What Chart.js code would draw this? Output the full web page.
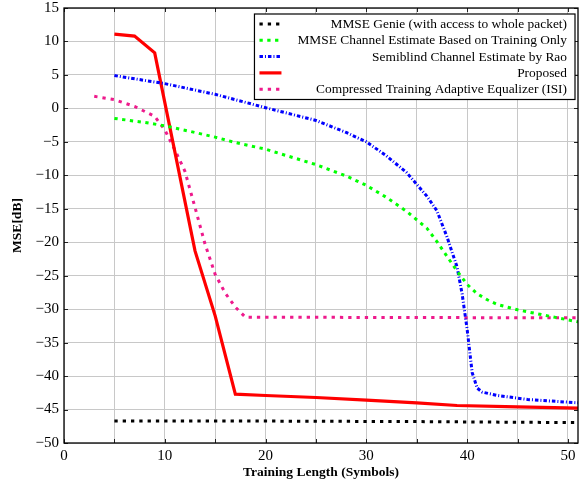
<!DOCTYPE html>
<html>
<head>
<meta charset="utf-8">
<script src="https://cdn.jsdelivr.net/npm/chart.js@4"></script>
<style>
  html, body { margin: 0; padding: 0; background: #fff; }
  #wrap { width: 585px; height: 484px; }
</style>
</head>
<body>
<div id="wrap"><canvas id="chart" width="585" height="484"></canvas></div>
<script>
"use strict";

// Values.
const genieX = [5, 15, 25, 35, 45, 51];
const genieY = [-46.7, -46.7, -46.75, -46.8, -46.9, -46.95];

const trainX = [5, 8, 10, 13, 15, 17, 20, 25, 28, 30, 32, 34, 36, 37, 38, 39, 40, 41, 42, 43, 45, 48, 51];
const trainY = [-1.5, -2.1, -2.6, -3.6, -4.3, -5.1, -6.1, -8.4, -10.1, -11.5, -13.3, -15.4, -17.9, -19.9, -22.1, -24.3, -26.3, -27.7, -28.6, -29.3, -30.1, -31.0, -31.9];

const raoX = [5, 10, 15, 17, 20, 25, 28, 30, 32, 34, 36, 37, 38, 39, 39.5, 40, 40.5, 41, 41.5, 43, 46, 51];
const raoY = [4.9, 3.7, 2.1, 1.3, 0.1, -1.8, -3.6, -5.0, -7.1, -9.6, -13.1, -15.3, -19.2, -23.7, -27.7, -33.0, -39.5, -41.8, -42.4, -42.9, -43.5, -44.0];

const proposedX = [5, 7, 9, 13, 15, 17, 20, 25, 30, 35, 39, 45, 51];
const proposedY = [11.1, 10.8, 8.3, -21.3, -31.0, -42.7, -42.9, -43.2, -43.6, -44.0, -44.4, -44.6, -44.8];

const isiX = [3, 5, 7, 9, 10, 11, 12, 13, 14, 15, 16, 17, 18, 51];
const isiY = [1.8, 1.3, 0.3, -1.2, -3.2, -6.2, -9.4, -14.8, -20.3, -24.8, -27.6, -29.7, -31.2, -31.3];

const seriesLabels = [
  "MMSE Genie (with access to whole packet)",
  "MMSE Channel Estimate Based on Training Only",
  "Semiblind Channel Estimate by Rao",
  "Proposed",
  "Compressed Training Adaptive Equalizer (ISI)",
];

const X_MIN = 0, X_MAX = 51, X_STEP = 5, X_LABEL_STEP = 10;
const Y_MIN = -50, Y_MAX = 15, Y_STEP = 5;

const SERIF = "'Liberation Serif', 'DejaVu Serif', serif";

const zip = (xs, ys) => xs.map((x, i) => ({ x, y: ys[i] }));
const minus = (v) => String(v).replace("-", "\u2212");

function line(label, xs, ys, color, dash, width) {
  return {
    label,
    data: zip(xs, ys),
    borderColor: color,
    backgroundColor: color,
    borderWidth: width,
    borderDash: dash,
    borderCapStyle: "butt",
    borderJoinStyle: "miter",
    pointRadius: 0,
    tension: 0,
    fill: false,
  };
}

/** Frame, inward tick marks on all four sides (pgfplots style). */
const frame = {
  id: "frame",
  afterDatasetsDraw(chart) {
    const { ctx, chartArea: a, scales: { x, y } } = chart;
    ctx.save();
    ctx.strokeStyle = "#222";
    ctx.lineWidth = 1;
    ctx.beginPath();
    for (let v = X_MIN; v <= X_MAX; v += X_STEP) {
      const px = Math.round(x.getPixelForValue(v)) + 0.5;
      ctx.moveTo(px, a.bottom); ctx.lineTo(px, a.bottom - 4);
      ctx.moveTo(px, a.top); ctx.lineTo(px, a.top + 4);
    }
    for (let v = Y_MIN; v <= Y_MAX; v += Y_STEP) {
      const py = Math.round(y.getPixelForValue(v)) + 0.5;
      ctx.moveTo(a.left, py); ctx.lineTo(a.left + 4, py);
      ctx.moveTo(a.right, py); ctx.lineTo(a.right - 4, py);
    }
    ctx.stroke();
    ctx.lineWidth = 1.3;
    ctx.strokeStyle = "#000";
    ctx.strokeRect(a.left, a.top, a.right - a.left, a.bottom - a.top);
    ctx.restore();
  },
};

/** Boxed legend in the upper right, text right-aligned as in the original. */
const legendBox = {
  id: "legendBox",
  afterDraw(chart) {
    const { ctx, chartArea: a } = chart;
    const sets = chart.data.datasets;
    ctx.save();
    ctx.font = "13.4px " + SERIF;
    const textW = Math.max(...sets.map((d) => ctx.measureText(d.label).width));
    const rowH = 16.3, padL = 5, sample = 22, gap = 16, padR = 8;
    const w = padL + sample + gap + textW + padR;
    const h = rowH * sets.length + 4;
    const right = a.right - 3, top = a.top + 6;
    const left = right - w;
    ctx.fillStyle = "#fff";
    ctx.fillRect(left, top, w, h);
    ctx.strokeStyle = "#000";
    ctx.lineWidth = 1.2;
    ctx.strokeRect(left, top, w, h);
    sets.forEach((d, i) => {
      const cy = top + 10 + i * rowH;
      ctx.strokeStyle = d.borderColor;
      ctx.lineWidth = d.borderWidth;
      ctx.lineCap = "butt";
      ctx.setLineDash(d.borderDash || []);
      ctx.beginPath();
      ctx.moveTo(left + padL, cy);
      ctx.lineTo(left + padL + sample, cy);
      ctx.stroke();
      ctx.setLineDash([]);
      ctx.fillStyle = "#000";
      ctx.textAlign = "right";
      ctx.textBaseline = "middle";
      ctx.fillText(d.label, right - padR, cy + 0.5);
    });
    ctx.restore();
  },
};

function init() {
  const ctx = document.getElementById("chart").getContext("2d");
  new Chart(ctx, {
    type: "line",
    data: {
      datasets: [
        line(seriesLabels[0], genieX, genieY, "#000000", [3.3, 5], 3),
        line(seriesLabels[1], trainX, trainY, "#00ff00", [3.3, 4.5], 3),
        line(seriesLabels[2], raoX, raoY, "#0000ff", [3.5, 2, 1, 2], 3),
        line(seriesLabels[3], proposedX, proposedY, "#ff0000", [], 3.2),
        line(seriesLabels[4], isiX, isiY, "#ee1a8c", [3.3, 5], 3),
      ],
    },
    options: {
      responsive: false,
      animation: false,
      devicePixelRatio: 1,
      layout: { padding: { top: 8, right: 7, left: 0, bottom: 0 } },
      plugins: { legend: { display: false }, tooltip: { enabled: false } },
      scales: {
        x: {
          type: "linear",
          min: X_MIN,
          max: X_MAX,
          afterBuildTicks(scale) {
            const ticks = [];
            for (let v = X_MIN; v <= X_MAX; v += X_STEP) ticks.push({ value: v });
            scale.ticks = ticks;
          },
          afterFit(scale) {
            scale.height = 41;
            scale.paddingLeft = 0;
            scale.paddingRight = 0;
          },
          grid: { color: "#c8c8c8", lineWidth: 1, drawTicks: false },
          border: { display: false },
          ticks: {
            autoSkip: false,
            maxRotation: 0,
            padding: 4,
            color: "#000",
            font: { family: SERIF, size: 15 },
            callback: (v) => (v % X_LABEL_STEP === 0 ? minus(v) : ""),
          },
          title: {
            display: true,
            text: "Training Length (Symbols)",
            color: "#000",
            font: { family: SERIF, size: 13.5, weight: "bold" },
            padding: { top: 0, bottom: 3 },
          },
        },
        y: {
          type: "linear",
          min: Y_MIN,
          max: Y_MAX,
          afterFit(scale) {
            scale.width = 64;
            scale.paddingTop = 0;
            scale.paddingBottom = 0;
          },
          grid: { color: "#c8c8c8", lineWidth: 1, drawTicks: false },
          border: { display: false },
          ticks: {
            stepSize: Y_STEP,
            padding: 5,
            color: "#000",
            font: { family: SERIF, size: 15 },
            callback: (v) => minus(v),
          },
          title: {
            display: true,
            text: "MSE[dB]",
            color: "#000",
            font: { family: SERIF, size: 13.5, weight: "bold" },
            padding: { top: 9, bottom: 0 },
          },
        },
      },
    },
    plugins: [frame, legendBox],
  });
}

init();
</script>
</body>
</html>
